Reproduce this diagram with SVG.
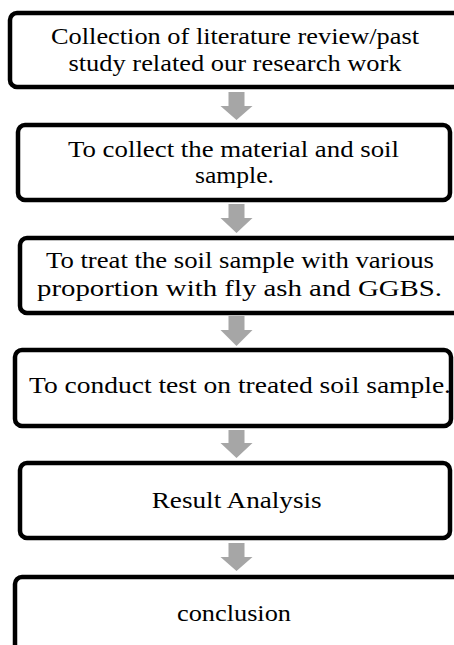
<svg xmlns="http://www.w3.org/2000/svg" width="454" height="645" viewBox="0 0 454 645">
<style>
.box{fill:#fff;stroke:#000;stroke-width:4.5}
.t{font-family:'Liberation Serif',Tinos,'Times New Roman',Times,serif;font-size:24px;fill:#000;text-anchor:middle}
.arr{fill:#a6a6a6}
</style>
<rect width="454" height="645" fill="#fff"/>
<g id="connectors">
<path class="arr" d="M228.5 92 H244.5 V106 H252.5 L236.5 120 L220.5 106 H228.5 Z"/>
<path class="arr" d="M228.5 204 H244.5 V218 H252.5 L236.5 233 L220.5 218 H228.5 Z"/>
<path class="arr" d="M228.5 316 H244.5 V330 H252.5 L236.5 346 L220.5 330 H228.5 Z"/>
<path class="arr" d="M228.5 430 H244.5 V443 H252.5 L236.5 458 L220.5 443 H228.5 Z"/>
<path class="arr" d="M228.5 543 H244.5 V557 H252.5 L236.5 571 L220.5 557 H228.5 Z"/>
</g>
<g id="n1">
<rect class="box" x="10" y="13" width="460" height="74" rx="7"/>
<text class="t" font-family="Liberation Serif" x="235" y="44" textLength="368" lengthAdjust="spacingAndGlyphs">Collection of literature review/past</text>
<text class="t" font-family="Liberation Serif" x="235" y="71" textLength="333" lengthAdjust="spacingAndGlyphs">study related our research work</text>
</g>
<g id="n2">
<rect class="box" x="18" y="125" width="432" height="75" rx="7"/>
<text class="t" font-family="Liberation Serif" x="233.5" y="157" textLength="331" lengthAdjust="spacingAndGlyphs">To collect the material and soil</text>
<text class="t" font-family="Liberation Serif" x="234.5" y="183" textLength="79" lengthAdjust="spacingAndGlyphs">sample.</text>
</g>
<g id="n3">
<rect class="box" x="20" y="238" width="450" height="75" rx="7"/>
<text class="t" font-family="Liberation Serif" x="240" y="268" textLength="388" lengthAdjust="spacingAndGlyphs">To treat the soil sample with various</text>
<text class="t" font-family="Liberation Serif" x="239.5" y="296" textLength="405" lengthAdjust="spacingAndGlyphs">proportion with fly ash and GGBS.</text>
</g>
<g id="n4">
<rect class="box" x="15" y="350" width="436" height="76" rx="7"/>
<text class="t" font-family="Liberation Serif" x="240" y="393" textLength="422" lengthAdjust="spacingAndGlyphs">To conduct test on treated soil sample.</text>
</g>
<g id="n5">
<rect class="box" x="20" y="463" width="430" height="75" rx="7"/>
<text class="t" font-family="Liberation Serif" x="236.7" y="508" textLength="170" lengthAdjust="spacingAndGlyphs">Result Analysis</text>
</g>
<g id="n6">
<rect class="box" x="15" y="577" width="460" height="90" rx="7"/>
<text class="t" font-family="Liberation Serif" x="234" y="621" textLength="114" lengthAdjust="spacingAndGlyphs">conclusion</text>
</g>
</svg>
